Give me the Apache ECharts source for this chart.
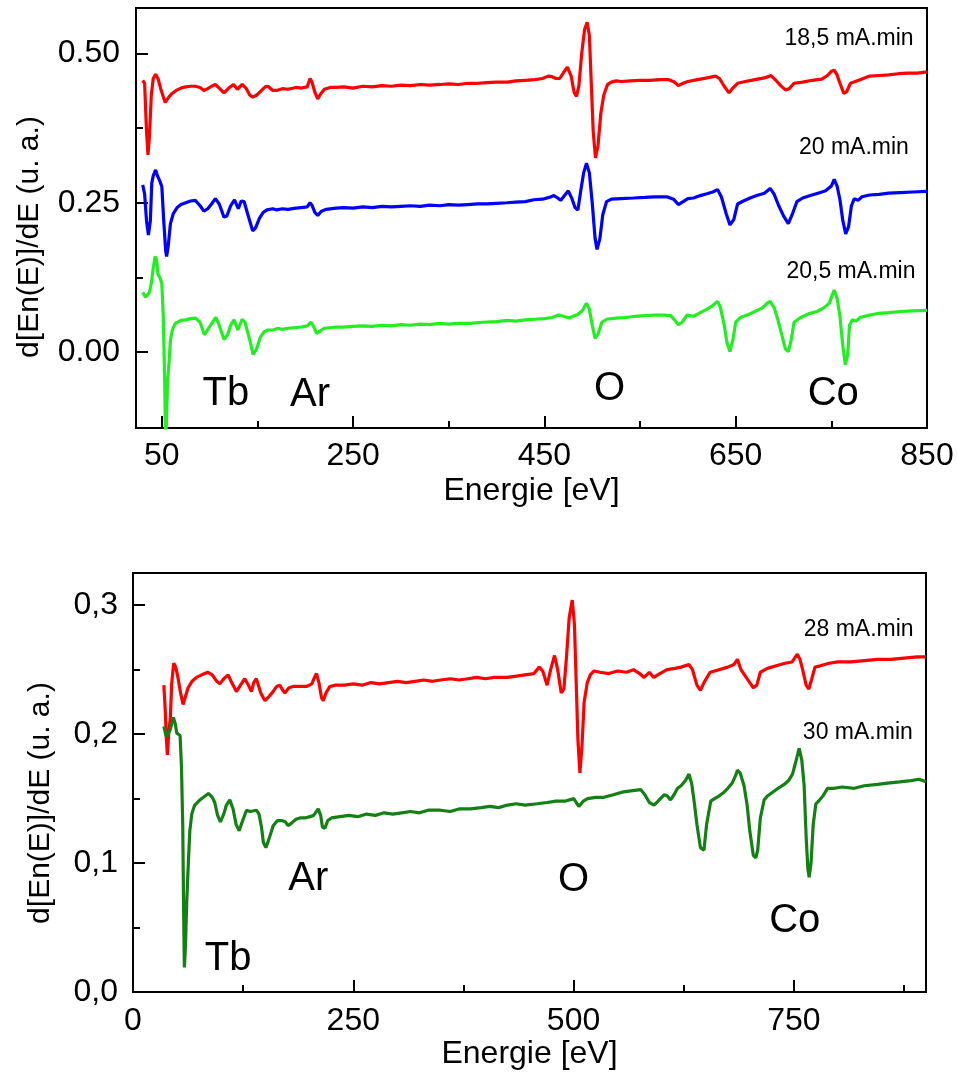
<!DOCTYPE html>
<html><head><meta charset="utf-8">
<script src="https://cdn.jsdelivr.net/npm/echarts@6/dist/echarts.min.js"></script>
<style>html,body{margin:0;padding:0;background:#fff}#c{width:957px;height:1081px}</style>
</head><body><div id="c"></div>
<script>
// ---------- data (energy eV, dN(E)/dE a.u.) ----------
const s185 = [[30,0.455],[32,0.45],[34,0.37],[35.5,0.33],[37,0.36],[39,0.43],[41,0.458],[43.5,0.465],[46,0.458],[49,0.44],[51,0.43],[53.5,0.418],[56,0.424],[60,0.432],[65,0.438],[70,0.442],[75,0.444],[80,0.445],[85,0.445],[90,0.443],[94,0.438],[98,0.441],[102,0.445],[106,0.448],[110,0.442],[115,0.434],[120,0.442],[125,0.448],[129,0.44],[134,0.448],[138,0.442],[142,0.43],[145,0.427],[149,0.43],[153,0.436],[158,0.444],[161,0.445],[166,0.438],[170,0.438],[176,0.441],[182,0.44],[190,0.443],[196,0.442],[202,0.444],[205,0.458],[207,0.452],[210,0.435],[213,0.424],[216,0.432],[220,0.44],[226,0.443],[232,0.443],[240,0.444],[250,0.442],[260,0.445],[270,0.444],[280,0.446],[290,0.445],[300,0.447],[310,0.446],[320,0.448],[330,0.447],[341,0.448],[350,0.449],[360,0.448],[370,0.45],[380,0.45],[390,0.451],[400,0.452],[411,0.452],[420,0.454],[430,0.455],[440,0.456],[448,0.458],[454,0.462],[458,0.461],[462,0.458],[466,0.458],[470,0.468],[474,0.477],[478,0.462],[481,0.435],[483.5,0.428],[486,0.445],[489,0.5],[492,0.54],[494.7,0.552],[497,0.53],[499,0.45],[501,0.37],[503.4,0.325],[506,0.345],[509,0.4],[512,0.43],[516,0.448],[520,0.452],[525,0.454],[530,0.453],[540,0.454],[550,0.455],[560,0.455],[570,0.456],[580,0.456],[586,0.452],[590,0.446],[595,0.45],[600,0.453],[610,0.456],[620,0.459],[629,0.462],[633,0.458],[638,0.445],[643,0.434],[647,0.442],[652,0.45],[660,0.453],[670,0.456],[680,0.459],[687,0.463],[692,0.455],[697,0.446],[702,0.439],[706,0.441],[711,0.45],[720,0.452],[730,0.455],[740,0.457],[746,0.463],[750,0.47],[753,0.472],[756,0.464],[759,0.45],[763,0.433],[766,0.436],[770,0.45],[780,0.456],[790,0.462],[800,0.463],[810,0.464],[820,0.466],[830,0.467],[840,0.467],[850,0.469]];

const s20 = [[30,0.28],[32,0.265],[34,0.22],[36,0.196],[38,0.22],[39.5,0.283],[41,0.295],[43.5,0.305],[45.5,0.295],[47.5,0.288],[50,0.277],[52,0.22],[54,0.17],[55,0.16],[56.5,0.175],[59,0.215],[62,0.232],[66,0.242],[70,0.247],[75,0.25],[80,0.253],[85,0.254],[90,0.245],[94,0.236],[98,0.24],[102,0.248],[106,0.257],[110,0.248],[115,0.226],[118,0.228],[122,0.245],[126,0.255],[130,0.24],[133,0.253],[136,0.252],[140,0.23],[145,0.203],[148,0.208],[152,0.224],[156,0.234],[160,0.238],[166,0.24],[170,0.238],[176,0.24],[182,0.239],[190,0.241],[196,0.242],[202,0.243],[205,0.25],[207,0.246],[210,0.234],[213,0.229],[217,0.236],[222,0.239],[232,0.241],[240,0.242],[250,0.241],[260,0.243],[270,0.242],[280,0.244],[290,0.243],[300,0.244],[310,0.245],[320,0.244],[330,0.246],[341,0.245],[350,0.247],[360,0.246],[370,0.247],[380,0.248],[390,0.248],[400,0.249],[411,0.25],[420,0.251],[430,0.252],[439,0.255],[448,0.256],[455,0.259],[460,0.262],[464,0.258],[467,0.254],[471,0.262],[475,0.27],[479,0.256],[482,0.242],[485,0.238],[488,0.27],[491,0.3],[494,0.316],[497,0.3],[500,0.25],[503,0.19],[505,0.172],[508,0.19],[511,0.23],[515,0.252],[520,0.256],[530,0.257],[543,0.258],[555,0.259],[565,0.26],[578,0.26],[585,0.256],[590,0.247],[595,0.252],[600,0.257],[606,0.258],[613,0.262],[620,0.265],[626,0.268],[631,0.272],[635,0.26],[640,0.232],[644,0.213],[648,0.222],[652,0.248],[658,0.253],[665,0.258],[672,0.262],[680,0.266],[686,0.274],[690,0.265],[695,0.245],[700,0.228],[705,0.215],[709,0.23],[714,0.252],[720,0.258],[728,0.262],[736,0.266],[744,0.27],[750,0.278],[753,0.289],[756,0.278],[759,0.255],[762,0.22],[765,0.198],[768,0.21],[771,0.245],[774,0.257],[778,0.254],[782,0.26],[790,0.263],[800,0.264],[810,0.266],[822,0.267],[835,0.268],[850,0.269]];

const s205 = [[30,0.1],[33,0.092],[35,0.09],[37,0.1],[39,0.115],[41,0.14],[43,0.16],[44.5,0.155],[46,0.13],[48,0.125],[50,0.115],[51.5,0.06],[53,-0.05],[54,-0.16],[55,-0.16],[56,-0.05],[57.5,-0.018],[59,0.02],[61,0.037],[64,0.048],[70,0.053],[75,0.054],[80,0.056],[85,0.057],[90,0.05],[94.5,0.029],[99,0.04],[103,0.05],[106.5,0.058],[110,0.045],[115,0.021],[119,0.03],[122,0.045],[125.5,0.054],[129.5,0.037],[134,0.055],[137,0.05],[142,0.02],[145.5,-0.004],[149,0.005],[153,0.025],[157,0.034],[161,0.037],[166,0.037],[172,0.04],[176,0.038],[182,0.04],[190,0.041],[196,0.042],[202,0.044],[206,0.05],[209,0.042],[212,0.031],[216,0.036],[220,0.04],[232,0.042],[240,0.042],[250,0.043],[260,0.044],[270,0.043],[280,0.045],[290,0.044],[300,0.046],[310,0.045],[320,0.047],[330,0.046],[340,0.048],[350,0.047],[360,0.048],[372,0.048],[385,0.05],[400,0.051],[411,0.053],[420,0.052],[430,0.054],[440,0.055],[450,0.056],[458,0.058],[465,0.062],[470,0.06],[476,0.057],[480,0.06],[485,0.063],[490,0.07],[494,0.082],[497,0.072],[500,0.045],[503,0.023],[506,0.03],[510,0.05],[515,0.055],[525,0.057],[535,0.058],[545,0.06],[555,0.061],[565,0.062],[575,0.062],[582,0.061],[587,0.052],[590,0.046],[594,0.05],[599,0.062],[606,0.06],[613,0.066],[620,0.072],[626,0.078],[631,0.085],[634,0.075],[638,0.045],[641,0.015],[644,0.001],[647,0.02],[650,0.05],[655,0.058],[662,0.062],[670,0.068],[678,0.074],[683,0.082],[686,0.085],[690,0.075],[694,0.055],[698,0.03],[702,0.005],[705,0.001],[708,0.02],[711,0.05],[718,0.058],[726,0.064],[735,0.068],[742,0.074],[748,0.082],[751,0.096],[753,0.104],[756,0.09],[759,0.06],[762,0.01],[764.6,-0.021],[767,-0.005],[769,0.045],[772,0.054],[776,0.052],[780,0.058],[790,0.062],[800,0.065],[810,0.066],[822,0.068],[835,0.069],[850,0.07]];

const s28 = [[35,0.238],[36.5,0.22],[38,0.195],[39,0.184],[40.5,0.2],[42.4,0.213],[44,0.24],[46.2,0.255],[48.5,0.252],[51,0.244],[54,0.232],[56.8,0.223],[59,0.228],[62.5,0.236],[67,0.241],[72,0.244],[78,0.246],[85,0.248],[90,0.246],[95,0.241],[98.5,0.239],[103,0.243],[108,0.246],[112,0.24],[117.4,0.233],[122,0.238],[126.9,0.243],[131,0.238],[134.4,0.233],[137,0.24],[140,0.243],[145,0.232],[149.7,0.226],[154,0.229],[159,0.233],[163,0.237],[166.7,0.238],[170,0.234],[172.4,0.232],[177,0.236],[182,0.237],[190,0.237],[197,0.237],[203,0.239],[206,0.244],[208.3,0.247],[211,0.24],[214,0.228],[216,0.226],[219,0.232],[223.5,0.237],[230,0.238],[240,0.238],[250,0.239],[260,0.238],[270,0.24],[280,0.239],[290,0.24],[300,0.241],[310,0.24],[320,0.241],[330,0.242],[340,0.241],[349,0.242],[360,0.243],[370,0.242],[380,0.243],[390,0.244],[400,0.243],[410,0.244],[425,0.244],[435,0.245],[445,0.246],[455,0.247],[461,0.252],[465,0.249],[470,0.238],[474,0.25],[478.4,0.261],[482,0.25],[486,0.232],[489,0.235],[492,0.26],[495,0.29],[498.5,0.304],[501,0.285],[503,0.24],[505,0.195],[507.2,0.17],[509.5,0.19],[512,0.225],[515.6,0.24],[519,0.246],[523,0.249],[530,0.248],[540,0.247],[550,0.249],[560,0.248],[568,0.25],[575,0.247],[580,0.244],[586,0.248],[591,0.244],[598,0.247],[606,0.25],[615,0.251],[622,0.252],[631,0.254],[635,0.25],[640,0.238],[644,0.234],[648,0.24],[655,0.248],[665,0.25],[675,0.252],[682,0.254],[686,0.258],[690,0.25],[694,0.246],[699,0.241],[704,0.236],[708,0.238],[712,0.248],[720,0.251],[730,0.253],[740,0.255],[748,0.256],[754,0.262],[757,0.258],[760,0.25],[764,0.238],[767,0.235],[770,0.242],[774,0.252],[780,0.253],[790,0.255],[800,0.256],[815,0.256],[830,0.257],[845,0.258],[860,0.258],[875,0.259],[890,0.26],[900,0.26]];

const s30 = [[35,0.206],[37.8,0.198],[40,0.197],[42,0.203],[44,0.208],[45.8,0.213],[48,0.208],[49.6,0.201],[51.5,0.2],[53.4,0.199],[55,0.175],[56.5,0.128],[57.5,0.06],[58.3,0.019],[59.5,0.035],[61,0.07],[62.8,0.1],[64.5,0.125],[66.7,0.138],[70,0.145],[76,0.149],[80,0.151],[85.6,0.154],[90,0.151],[92.8,0.147],[96,0.137],[99.2,0.132],[103,0.138],[106,0.145],[109.9,0.149],[113.6,0.142],[117,0.13],[120.5,0.125],[124,0.132],[128.8,0.141],[133,0.14],[140.1,0.141],[143,0.138],[145.8,0.128],[148,0.116],[150.8,0.112],[154,0.118],[159.1,0.129],[164,0.133],[168.5,0.133],[173,0.132],[176,0.129],[179.9,0.131],[185,0.134],[189.4,0.135],[195,0.135],[200.8,0.136],[205,0.137],[210.2,0.142],[213,0.137],[215,0.128],[217.8,0.127],[221,0.133],[225.3,0.135],[235,0.136],[245,0.137],[255,0.136],[265,0.138],[275,0.137],[285,0.139],[295,0.138],[305,0.139],[315,0.14],[325,0.139],[335,0.141],[349,0.141],[360,0.14],[370,0.142],[383,0.142],[395,0.143],[405,0.144],[415,0.143],[425,0.145],[435,0.146],[445,0.145],[458.8,0.146],[470,0.147],[480,0.148],[490,0.148],[500.3,0.15],[503,0.147],[506,0.144],[508,0.144],[511,0.148],[516,0.15],[525,0.151],[534.4,0.151],[545,0.153],[555,0.155],[565,0.156],[576.1,0.157],[581,0.153],[586,0.147],[591.3,0.145],[596,0.148],[600,0.151],[603,0.153],[606.5,0.152],[610,0.149],[614,0.153],[618,0.158],[622,0.16],[627,0.164],[631,0.169],[634,0.162],[637,0.147],[640,0.13],[644,0.112],[648,0.11],[651,0.13],[655.7,0.148],[660,0.15],[665,0.152],[670.8,0.155],[675,0.158],[680,0.162],[684,0.168],[686,0.172],[689,0.17],[693.5,0.16],[697,0.145],[700,0.125],[704,0.106],[706.8,0.104],[709,0.11],[712,0.135],[716.3,0.149],[720,0.152],[726,0.155],[732,0.158],[739,0.161],[744,0.164],[748.5,0.169],[752,0.178],[756,0.189],[759,0.18],[761.7,0.16],[764,0.12],[766,0.095],[767.4,0.089],[769.5,0.1],[772,0.13],[775,0.146],[778,0.148],[783,0.152],[788.3,0.158],[795,0.158],[805,0.159],[818.5,0.158],[830,0.16],[845,0.161],[856.5,0.162],[870,0.163],[883,0.164],[892,0.165],[900,0.163]];

const topXLabels = [50,250,450,650,850];
const topXMinor = [150,350,550,750];
const topYLabels = [0,0.25,0.5];
const topYMinor = [0.125,0.375];
const botXLabels = [0,250,500,750];
const botXMinor = [125,375,625,875];
const botYLabels = [0,0.1,0.2,0.3];
const botYMinor = [0.05,0.15,0.25];

const topElements = [{name:'Tb',value:[117,-0.07]},{name:'Ar',value:[205,-0.071]},{name:'O',value:[518,-0.062]},{name:'Co',value:[752,-0.07]}];
const botElements = [{name:'Tb',value:[108,0.026]},{name:'Ar',value:[199,0.088]},{name:'O',value:[500,0.087]},{name:'Co',value:[751,0.055]}];
const topCurveNames = [{name:'18,5 mA.min',value:[836,0.524]},{name:'20 mA.min',value:[831,0.343]},{name:'20,5 mA.min',value:[838,0.134]}];
const botCurveNames = [{name:'28 mA.min',value:[886,0.281]},{name:'30 mA.min',value:[885,0.201]}];

// ---------- chart ----------
const FONT = 'Liberation Sans, Arial, sans-serif';
const tickStyle = {color:'#000', width:2};

function mainX(gi, min, max, labels, gap, margin){
  return {type:'value', gridIndex:gi, min, max, position:'bottom',
    axisLine:{show:true, onZero:false, lineStyle:tickStyle},
    axisTick:{show:true, inside:true, length:12, customValues:labels, lineStyle:tickStyle},
    axisLabel:{customValues:labels, fontSize:32, color:'#000', fontFamily:FONT, margin},
    splitLine:{show:false},
    name:'Energie [eV]', nameLocation:'middle', nameGap:gap,
    nameTextStyle:{fontSize:32, color:'#000', fontFamily:FONT}};
}
function minorX(gi, min, max, ticks){
  return {type:'value', gridIndex:gi, min, max, position:'bottom',
    axisLine:{show:false, onZero:false}, axisLabel:{show:false}, splitLine:{show:false},
    axisTick:{show:true, inside:true, length:7, customValues:ticks, lineStyle:tickStyle}};
}
function mainY(gi, min, max, labels, fmt, margin){
  return {type:'value', gridIndex:gi, min, max, position:'left',
    axisLine:{show:true, onZero:false, lineStyle:tickStyle},
    axisTick:{show:true, inside:true, length:12, customValues:labels, lineStyle:tickStyle},
    axisLabel:{customValues:labels, fontSize:32, color:'#000', fontFamily:FONT, margin, formatter:fmt},
    splitLine:{show:false}};
}
function minorY(gi, min, max, ticks){
  return {type:'value', gridIndex:gi, min, max, position:'left',
    axisLine:{show:false, onZero:false}, axisLabel:{show:false}, splitLine:{show:false},
    axisTick:{show:true, inside:true, length:7, customValues:ticks, lineStyle:tickStyle}};
}
function curve(name, data, color, xi, yi){
  return {type:'line', name, data, xAxisIndex:xi, yAxisIndex:yi, showSymbol:false, symbol:'none',
    lineStyle:{color, width:3.2}, itemStyle:{color}, animation:false, silent:true, z:3};
}
function notes(data, xi, yi, size, pos){
  return {type:'scatter', data, xAxisIndex:xi, yAxisIndex:yi, symbolSize:0, silent:true, animation:false,
    itemStyle:{opacity:1, color:'#000'},
    label:{show:true, position:pos, distance:0, fontSize:size, color:'#000', opacity:1, fontFamily:FONT,
      formatter:p => p.name}, z:5};
}

const chart = echarts.init(document.getElementById('c'), null, {renderer:'canvas'});
chart.setOption({
  backgroundColor:'#fff',
  animation:false,
  grid:[
    {left:136, top:8, width:791, height:420, show:true, borderColor:'#000', borderWidth:2, backgroundColor:'transparent', outerBoundsMode:'none'},
    {left:133, top:573, width:793, height:419, show:true, borderColor:'#000', borderWidth:2, backgroundColor:'transparent', outerBoundsMode:'none'}
  ],
  xAxis:[
    mainX(0, 23, 850, topXLabels, 47, 12),
    minorX(0, 23, 850, topXMinor),
    mainX(1, 0, 900, botXLabels, 45, 13),
    minorX(1, 0, 900, botXMinor)
  ],
  yAxis:[
    mainY(0, -0.127, 0.576, topYLabels, v => v.toFixed(2), 16),
    minorY(0, -0.127, 0.576, topYMinor),
    mainY(1, 0, 0.325, botYLabels, v => v.toFixed(1).replace('.', ','), 15),
    minorY(1, 0, 0.325, botYMinor)
  ],
  graphic:[
    {type:'text', x:30, y:237, rotation:Math.PI/2, style:{text:'d[En(E)]/dE (u. a.)', fontSize:30, fill:'#000', fontFamily:FONT, align:'center', verticalAlign:'middle'}},
    {type:'text', x:41, y:803, rotation:Math.PI/2, style:{text:'d[En(E)]/dE (u. a.)', fontSize:30, fill:'#000', fontFamily:FONT, align:'center', verticalAlign:'middle'}}
  ],
  series:[
    curve('18,5 mA.min', s185, '#ff0000', 0, 0),
    curve('20 mA.min', s20, '#0000ff', 0, 0),
    curve('20,5 mA.min', s205, '#22ee22', 0, 0),
    curve('28 mA.min', s28, '#ff0000', 2, 2),
    curve('30 mA.min', s30, '#138013', 2, 2),
    notes(topElements, 0, 0, 40, 'inside'),
    notes(botElements, 2, 2, 40, 'inside'),
    notes(topCurveNames, 0, 0, 23, 'left'),
    notes(botCurveNames, 2, 2, 23, 'left')
  ]
});
</script>
</body></html>
